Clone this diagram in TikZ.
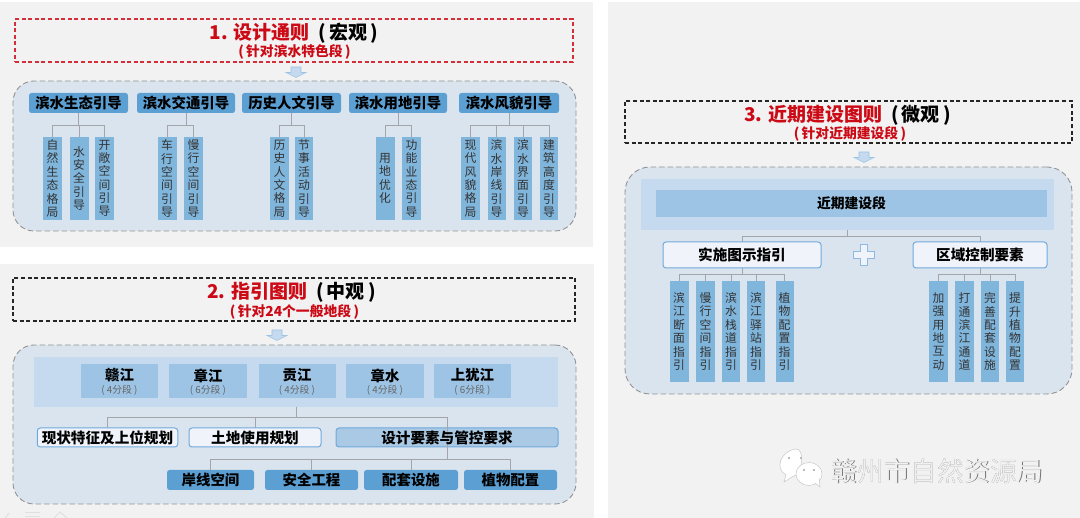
\documentclass[tikz,border=0pt]{standalone}
\usepackage{fontspec}
\setmainfont{Noto Sans CJK SC}
\XeTeXlinebreaklocale "zh"
\XeTeXlinebreakskip=0pt plus 1pt
\usetikzlibrary{calc}
\definecolor{sheetgray}{HTML}{F2F2F2}
\definecolor{panelblue}{HTML}{DAE4EE}
\definecolor{headblue}{HTML}{5B9FD3}
\definecolor{leafblue}{HTML}{80B5DC}
\definecolor{bandblue}{HTML}{C5DAEE}
\definecolor{riverblue}{HTML}{9DC4E4}
\definecolor{barblue}{HTML}{A9C9E4}
\definecolor{whiteblue}{HTML}{F0F4FA}
\definecolor{edgeblue}{HTML}{6FA9DC}
\definecolor{titlered}{HTML}{CC0A16}
\definecolor{wirebgray}{HTML}{A3A5A8}

\begin{document}
\begin{tikzpicture}[x=1pt, y=-1pt,
    plain/.style = {inner sep = 0, outer sep = 0},
    sheet/.style = {plain, fill = sheetgray},
    titlebox/.style = {plain, draw, line width = 1.35pt, dash pattern = on 4pt off 2.6pt},
    panel/.style = {plain, draw = gray!85, fill = panelblue, line width = .9pt, dash pattern = on 5.5pt off 3pt, rounded corners = 21pt},
    headbox/.style = {plain, fill = headblue, rounded corners = 2.5pt, minimum height = 20pt, font = \fontsize{14.4}{16}\selectfont\bfseries},
    leaf/.style = {plain, fill = leafblue, text width = 12pt, align = center, text = black!80, font = \fontsize{11.8}{13.35}\selectfont},
    planbox/.style = {plain, draw = edgeblue, line width = 1pt, fill = whiteblue, rounded corners = 3pt, font = \fontsize{14.6}{16}\selectfont\bfseries},
    band/.style = {plain, fill = bandblue},
    river/.style = {plain, fill = riverblue, minimum height = 34pt},
    link/.style = {draw = wirebgray, line width = .8pt},
    flowarrow/.style = {draw = riverblue, fill = bandblue, line width = .6pt},
    bigtitle/.style = {plain, font = \fontsize{19}{21}\selectfont\bfseries},
    subtitle/.style = {plain, text = titlered, font = \fontsize{13.8}{16}\selectfont\bfseries}]
    \useasboundingbox (0, 0) rectangle (1080, 518);

    \node [sheet, minimum width = 593, minimum height = 245] (sheet1) at (296.5, 124.5) {};
    \node [sheet, minimum width = 594, minimum height = 254] (sheet2) at (297, 391) {};
    \node [sheet, minimum width = 472, minimum height = 516] (sheet3) at (844, 260) {};

    %%%%%%%%%% block 1 %%%%%%%%%%%%%%%%%%%
    \node [titlebox, draw = titlered!85!white, minimum width = 558, minimum height = 43] (title1) at (294, 40.5) {};
    \node [bigtitle] (head1) at (294, 33) {\textcolor{titlered}{1. 设计通则}\ \ (\,宏观\,)};
    \node [subtitle] (sub1) at (294.5, 52) {(\,针对滨水特色段\,)};
    \node [panel, minimum width = 563, minimum height = 150] (panel1) at (294.5, 156) {};

    \foreach \x/\w/\t/\n in {78.5/99/滨水生态引导/A, 186/98/滨水交通引导/B, 291.5/99/历史人文引导/C, 398/98/滨水用地引导/D, 509/100/滨水风貌引导/E} {
        \node [headbox, minimum width = \w] (h\n) at (\x, 103) {\t};
    }

    \foreach \x/\w/\t/\n/\p in {52.5/19/自然生态格局/1/A, 79/19/水安全引导/2/A, 104.5/19/开敞空间引导/3/A,
        167/19/车行空间引导/4/B, 193.5/19/慢行空间引导/5/B,
        279.5/19/历史人文格局/6/C, 304/18/节事活动引导/7/C,
        385/19/用地优化/8/D, 411.5/19/功能业态引导/9/D,
        470.5/19/现代风貌格局/10/E, 496.5/18/滨水岸线引导/11/E, 523/18/滨水界面引导/12/E, 549/18/建筑高度引导/13/E} {
        \node [leaf, minimum width = \w, minimum height = 83] (leaf\n) at (\x, 178.5) {\t};
        \draw [link] (h\p.south) -- ++(0, 12.5) -| (leaf\n.north);
    }

    %%%%%%%%%% block 2 %%%%%%%%%%%%%%%%%%%
    \node [titlebox, draw = black!85, minimum width = 562, minimum height = 43] (title2) at (294, 299.5) {};
    \node [bigtitle] (head2) at (291.5, 292) {\textcolor{titlered}{2. 指引图则}\ \ (\,中观\,)};
    \node [subtitle] (sub2) at (294.5, 311.5) {(\,针对24个一般地段\,)};
    \node [panel, minimum width = 563, minimum height = 159] (panel2) at (294.5, 424.5) {};
    \node [band, minimum width = 524, minimum height = 50] (band2) at (296, 382) {};

    \foreach \x/\w/\t/\z/\n in {119.5/77/赣江/4/1, 208/78/章江/6/2, 297/77/贡江/4/3, 385/78/章水/4/4, 472.5/77/上犹江/6/5} {
        \node [river, minimum width = \w] (river\n) at (\x, 381) {};
        \node [plain, font = \fontsize{14.4}{16}\selectfont\bfseries] (name\n) at (\x, 375.5) {\t};
        \node [plain, text = black!60, font = \fontsize{9.8}{11}\selectfont] (part\n) at (\x, 390) {(\ \z 分段\ )};
    }

    \node [planbox, minimum width = 140.5, minimum height = 19] (plan1) at (107.5, 437.5) {现状特征及上位规划};
    \node [planbox, minimum width = 132, minimum height = 19] (plan2) at (255, 437.5) {土地使用规划};
    \node [planbox, fill = barblue, minimum width = 222, minimum height = 19] (plan3) at (447, 437.5) {};
    \foreach \n in {1, 2, 3} {
        \draw [link] (band2.south) -- ++(0, 10.7) -| (plan\n.north);
    }

    \foreach \x/\w/\t/\n in {210.5/87/岸线空间/1, 311.5/93/安全工程/2, 411/94/配套设施/3, 510.5/93/植物配置/4} {
        \node [headbox, minimum width = \w] (item\n) at (\x, 480) {\t};
        \draw [link] (plan3.north) -- ++(0, 31.5) -| (item\n.north);
    }
    \node [plain, font = \fontsize{14.6}{16}\selectfont\bfseries] (plantext3) at (447, 437.5) {设计要素与管控要求};

    %%%%%%%%%% block 3 %%%%%%%%%%%%%%%%%%%
    \node [titlebox, draw = black!85, minimum width = 447, minimum height = 42] (title3) at (848.5, 122) {};
    \node [bigtitle] (head3) at (847.5, 115) {\textcolor{titlered}{3. 近期建设图则}\ \ (\,微观\,)};
    \node [subtitle] (sub3) at (850, 134) {(\,针对近期建设段\,)};
    \node [panel, minimum width = 447, minimum height = 227, rounded corners = 25pt] (panel3) at (848.5, 280.5) {};
    \node [band, minimum width = 413, minimum height = 51] (band3) at (847.5, 204.5) {};
    \node [river, minimum width = 391, minimum height = 27, font = \fontsize{13.8}{16}\selectfont\bfseries] (near3) at (851.5, 203.5) {近期建设段};

    \node [planbox, minimum width = 158, minimum height = 26] (plan4) at (742, 255) {实施图示指引};
    \node [planbox, minimum width = 134, minimum height = 26] (plan5) at (980, 255) {区域控制要素};
    \foreach \n in {4, 5} {
        \draw [link] (band3.south) -- ++(0, 6.5) -| (plan\n.north);
    }
    \draw [draw = edgeblue!80, fill = whiteblue, line width = 1pt, shift = {(863.5, 255.5)}] (-3.5, -10.5) -- (3.5, -10.5) -- (3.5, -3.5) -- (10.5, -3.5) -- (10.5, 3.5) -- (3.5, 3.5) -- (3.5, 10.5) -- (-3.5, 10.5) -- (-3.5, 3.5) -- (-10.5, 3.5) -- (-10.5, -3.5) -- (-3.5, -3.5) -- cycle;

    \foreach \x/\w/\t/\n/\p in {679/19/滨江断面指引/14/4, 705.5/19/慢行空间指引/15/4, 731/18/滨水栈道指引/16/4, 756/18/滨江驿站指引/17/4, 784.5/18/植物配置指引/18/4,
        938.5/19/加强用地互动/19/5, 964.5/19/打通滨江通道/20/5, 990/18/完善配套设施/21/5, 1015/18/提升植物配置/22/5} {
        \node [leaf, minimum width = \w, minimum height = 101] (leaf\n) at (\x, 331.5) {\t};
        \draw [link] (plan\p.south) -- ++(0, 6) -| (leaf\n.north);
    }

    % the three block arrows
    \foreach \x/\y in {296/67, 277/330, 864/152} {
        \draw [flowarrow, shift = {(\x, \y)}] (-5, 0) -- (5, 0) -- (5, 5.5) -- (10, 5.5) -- (0, 10.5) -- (-10, 5.5) -- (-5, 5.5) -- cycle;
    }

    %%%%%%%%%% watermark %%%%%%%%%%%%%%%%%%%
    \begin{scope}[line width = .5pt]
        \draw [draw = black!22, fill = white] (786, 475) -- (784, 482) -- (792, 477) to[out = 10, in = 10] (795, 449) to[out = 190, in = 150, looseness = 1.3] cycle;
        \draw [draw = black!22, fill = white] (809, 474) circle [x radius = 13, y radius = 11.5];
        \draw [draw = black!22, fill = white] (815, 483) -- (820, 487) -- (819, 478);
        \foreach \x/\y in {789/458, 801/458, 804/470, 814/470} {
            \fill [black!35] (\x, \y) circle (1.2);
        }
    \end{scope}
    \node [plain, text = black!55, font = \fontsize{26.6}{30}\selectfont] (markshadow) at (937.5, 471.5) {赣州市自然资源局};
    \node [plain, text = black!6, font = \fontsize{26.6}{30}\selectfont] (mark) at (937, 471) {赣州市自然资源局};

    % faint marks along the lower edge
    \draw [black!12, line width = 1pt] (9, 513) -- (5, 518);
    \draw [black!12, line width = 1pt] (25, 513) -- (40, 513) (25, 517) -- (40, 517);
    \draw [black!12, line width = 1pt] (54, 518) -- (60, 512) -- (67, 518);
\end{tikzpicture}
\end{document}
